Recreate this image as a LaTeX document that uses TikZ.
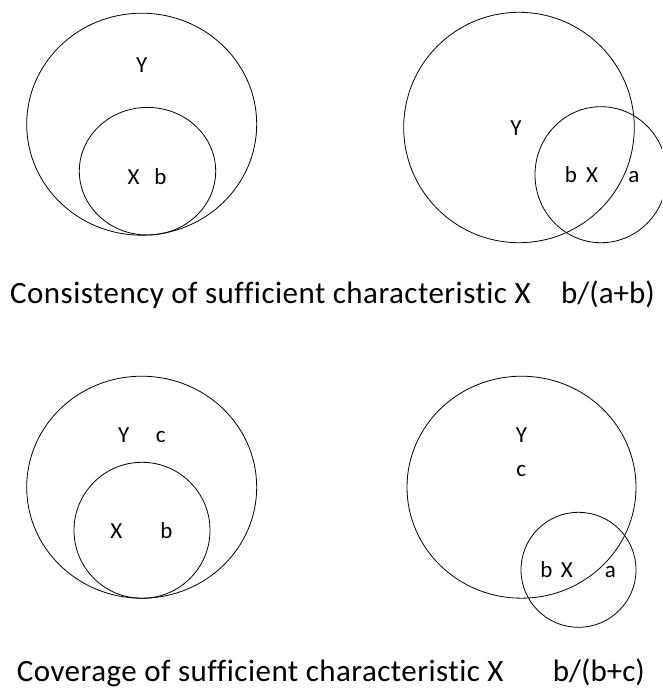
\documentclass[tikz,border=0pt]{standalone}
\usepackage{fontspec}
\setmainfont{Carlito}[Ligatures={NoCommon}]
\newfontfamily\capfont{Carlito}[Ligatures={NoCommon},LetterSpace=1.5]
\begin{document}
\begin{tikzpicture}[x=1pt,y=-1pt,
  ring/.style={draw=black,line width=0.8pt},
  lbl/.style={anchor=base,inner sep=0pt,font=\fontsize{23}{27}\selectfont},
  captiontext/.style={anchor=base west,inner sep=0pt,font=\capfont\fontsize{31}{36}\selectfont},
  formulatext/.style={anchor=base east,inner sep=0pt,font=\fontsize{31}{36}\selectfont}]
\useasboundingbox (0,0) rectangle (662,688);
\begin{scope}
\clip (0,0) rectangle (662,688);
% top-left
\draw[ring] (141.7,124.2) ellipse [x radius=115, y radius=111];
\draw[ring] (147.5,171.2) ellipse [x radius=68.2, y radius=63.8];
% top-right
\draw[ring] (519,127.5) ellipse [x radius=115.3, y radius=115.2];
\draw[ring] (601,174.7) ellipse [x radius=66, y radius=68];
% bottom-left
\draw[ring] (141.7,487.2) ellipse [x radius=115, y radius=111];
\draw[ring] (142,530.3) ellipse [x radius=68, y radius=68];
% bottom-right
\draw[ring] (521.5,487.2) ellipse [x radius=114.5, y radius=111];
\draw[ring] (578.5,569.8) ellipse [x radius=57.5, y radius=57.5];
\end{scope}
% labels top-left
\node[lbl] (tlY) at (141.7,72.7) {Y};
\node[lbl] (tlX) at (133.5,184) {X};
\node[lbl] (tlb) at (160.3,184) {b};
% labels top-right
\node[lbl] (trY) at (516,135.5) {Y};
\node[lbl] (trb) at (571,182.7) {b};
\node[lbl] (trX) at (592.2,182.7) {X};
\node[lbl] (tra) at (633.8,182.7) {a};
% labels bottom-left
\node[lbl] (blY) at (123.8,442.7) {Y};
\node[lbl] (blc) at (160.8,442.7) {c};
\node[lbl] (blX) at (116.3,538.3) {X};
\node[lbl] (blb) at (166.5,538.3) {b};
% labels bottom-right
\node[lbl] (brY) at (521.5,442.7) {Y};
\node[lbl] (brc) at (521.3,476) {c};
\node[lbl] (brb) at (546.3,577.3) {b};
\node[lbl] (brX) at (566.8,577.3) {X};
\node[lbl] (bra) at (610.5,577.3) {a};
% captions
\node[captiontext] (cap1) at (10,303.3) {Consistency of sufficient characteristic X};
\node[formulatext] (cap1f) at (655,303.3) {b/(a+b)};
\node[captiontext] (cap2) at (16.7,681) {Coverage of sufficient characteristic X};
\node[formulatext] (cap2f) at (645,681) {b/(b+c)};
\end{tikzpicture}
\end{document}
